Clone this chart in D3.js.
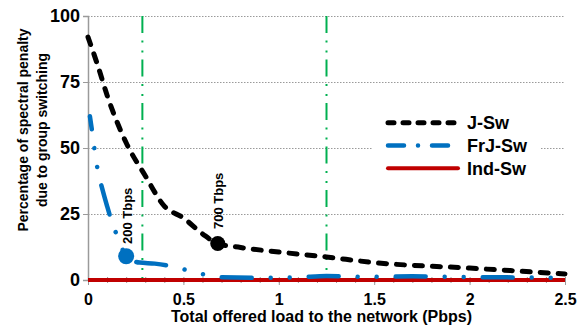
<!DOCTYPE html>
<html>
<head>
<meta charset="utf-8">
<script src="https://cdn.jsdelivr.net/npm/d3@7"></script>
<style>
  body { margin: 0; background: #fff; }
  svg { display: block; }
  svg text { font-family: "Liberation Sans", Arial, sans-serif; font-weight: bold; }
</style>
</head>
<body>
<svg id="chart" width="579" height="325"></svg>
<script>
// Data
const seriesNames = ['J-Sw', 'FrJ-Sw', 'Ind-Sw'];

const jswX = [0, 0.05, 0.1, 0.2, 0.3, 0.4, 0.5, 0.6, 0.68, 0.8, 1.0, 1.25, 1.5, 2.0, 2.5];
const jswY = [92, 81.5, 70, 52, 39.5, 28, 23.5, 17.5, 13.8, 12.3, 10.6, 8.7, 6.6, 4.5, 2.3];

const frjX = [0.01, 0.02, 0.035, 0.05, 0.075, 0.1, 0.125, 0.16, 0.2, 0.27, 0.35, 0.44, 0.53, 0.62, 0.7, 0.9, 1.1, 1.25, 1.4, 1.7, 2.0, 2.2, 2.5];
const frjY = [62, 57, 49, 42, 34.5, 28, 22, 15.5, 9, 6.6, 6.2, 5.2, 3.5, 1.9, 1.0, 0.8, 1.0, 1.5, 1.2, 1.4, 1.1, 1.0, 0.8];

const indX = [0, 0.5, 1, 1.5, 2, 2.5];
const indY = [0, 0, 0, 0, 0, 0];

// highlighted points: 200 Tbps on FrJ-Sw, 700 Tbps on J-Sw
const markX = [0.2, 0.68];
const markY = [9, 13.8];
const markLabels = ['200 Tbps', '700 Tbps'];

// vertical reference lines
const refLines = [0.285, 1.25];

const xTicks = [0, 0.5, 1, 1.5, 2, 2.5];
const yTicks = [0, 25, 50, 75, 100];

const svg = d3.select('#chart');
const margin = { top: 16, left: 88, right: 14, bottom: 45 };
const width = 579, height = 325;

const x = d3.scaleLinear().domain([0, 2.5]).range([margin.left, width - margin.right]);
const y = d3.scaleLinear().domain([0, 100]).range([height - margin.bottom, margin.top]);

// Horizontal gridlines
svg.append('g')
    .attr('transform', `translate(${margin.left},0)`)
    .call(d3.axisLeft(y).tickValues(yTicks.slice(1)).tickSize(-(x.range()[1] - x.range()[0])).tickFormat(''))
    .call(g => g.select('.domain').remove())
    .selectAll('line')
    .attr('stroke', '#9a9a9a')
    .attr('stroke-dasharray', '1.5,1.5');

// Y axis
const yAxis = svg.append('g')
    .attr('transform', `translate(${margin.left},0)`)
    .call(d3.axisLeft(y).tickValues(yTicks).tickSize(5).tickPadding(3))
    .attr('font-family', null)
    .attr('font-size', null);
yAxis.select('.domain').attr('stroke', '#9a9a9a').attr('stroke-width', 1.5);
yAxis.selectAll('line').attr('stroke', '#9a9a9a');
yAxis.selectAll('text').attr('font-size', 18).attr('fill', '#000');

// X axis (minor then major)
svg.append('g')
    .attr('transform', `translate(0,${y(0)})`)
    .call(d3.axisBottom(x).ticks(25).tickSize(3).tickFormat(''))
    .call(g => g.select('.domain').attr('stroke', '#9a9a9a'))
    .selectAll('line').attr('stroke', '#9a9a9a').attr('y1', -3);

const xAxis = svg.append('g')
    .attr('transform', `translate(0,${y(0)})`)
    .call(d3.axisBottom(x).tickValues(xTicks).tickSize(5).tickPadding(9).tickFormat(d => d))
    .attr('font-family', null)
    .attr('font-size', null);
xAxis.select('.domain').remove();
xAxis.selectAll('line').attr('stroke', '#9a9a9a');
xAxis.selectAll('text').attr('font-size', 16).attr('fill', '#000');

// Green reference lines
svg.selectAll('.ref')
    .data(refLines)
    .enter().append('line')
    .attr('x1', d => x(d)).attr('x2', d => x(d))
    .attr('y1', y(100)).attr('y2', y(0))
    .attr('stroke', '#00b050')
    .attr('stroke-width', 2)
    .attr('stroke-dasharray', '17,7.5,2,8,2,7');

const line = d3.line().x(d => x(d[0])).y(d => y(d[1])).curve(d3.curveMonotoneX);

// Ind-Sw
svg.append('path')
    .datum(d3.zip(indX, indY))
    .attr('d', line)
    .attr('fill', 'none')
    .attr('stroke', '#c00000')
    .attr('stroke-width', 4);

// FrJ-Sw
svg.append('path')
    .datum(d3.zip(frjX, frjY))
    .attr('d', line)
    .attr('fill', 'none')
    .attr('stroke', '#0070c0')
    .attr('stroke-width', 4.5)
    .attr('stroke-linecap', 'round')
    .attr('stroke-dasharray', '30,19,0.01,19,0.01,19')
    .attr('stroke-dashoffset', 17);

// J-Sw
svg.append('path')
    .datum(d3.zip(jswX, jswY))
    .attr('d', line)
    .attr('fill', 'none')
    .attr('stroke', '#000')
    .attr('stroke-width', 5)
    .attr('stroke-linecap', 'round')
    .attr('stroke-dasharray', '8,10');

// Highlight markers
svg.append('circle')
    .attr('cx', x(markX[0])).attr('cy', y(markY[0])).attr('r', 8)
    .attr('fill', '#0070c0');
svg.append('circle')
    .attr('cx', x(markX[1])).attr('cy', y(markY[1])).attr('r', 7.5)
    .attr('fill', '#000');

// Rotated labels
const labelPos = [{ dx: 6, base: 244 }, { dx: 5.5, base: 229 }];
markLabels.forEach((t, i) => {
    const lx = x(markX[i]) + labelPos[i].dx;
    svg.append('text')
        .attr('transform', `translate(${lx},${labelPos[i].base}) rotate(-90)`)
        .attr('font-size', 13)
        .attr('fill', '#000')
        .text(t);
});

// Legend
const legend = svg.append('g');
legend.append('rect')
    .attr('x', 373).attr('y', 104).attr('width', 168).attr('height', 80)
    .attr('fill', '#fff');
const legendStyles = [
    { color: '#000', w: 5, dash: '6,9', cap: 'round' },
    { color: '#0070c0', w: 4.5, dash: '16,14,0.01,14', cap: 'round' },
    { color: '#c00000', w: 4, dash: null, cap: 'round' }
];
seriesNames.forEach((name, i) => {
    const ly = 122.7 + i * 22.8;
    const s = legendStyles[i];
    legend.append('line')
        .attr('x1', 388).attr('x2', 458)
        .attr('y1', ly).attr('y2', ly)
        .attr('stroke', s.color)
        .attr('stroke-width', s.w)
        .attr('stroke-linecap', s.cap)
        .attr('stroke-dasharray', s.dash);
    legend.append('text')
        .attr('x', 467).attr('y', ly + 6.5)
        .attr('font-size', 18)
        .attr('fill', '#000')
        .text(name);
});

// Axis titles
svg.append('text')
    .attr('x', 321.5).attr('y', 321.5)
    .attr('text-anchor', 'middle')
    .attr('font-size', 16)
    .text('Total offered load to the network (Pbps)');

const yTitle = svg.append('text')
    .attr('transform', 'translate(0,130) rotate(-90)')
    .attr('text-anchor', 'middle')
    .attr('font-size', 14);
yTitle.append('tspan').attr('x', 0).attr('y', 28).text('Percentage of spectral penalty');
yTitle.append('tspan').attr('x', 0).attr('y', 47).text('due to group switching');
</script>
</body>
</html>
